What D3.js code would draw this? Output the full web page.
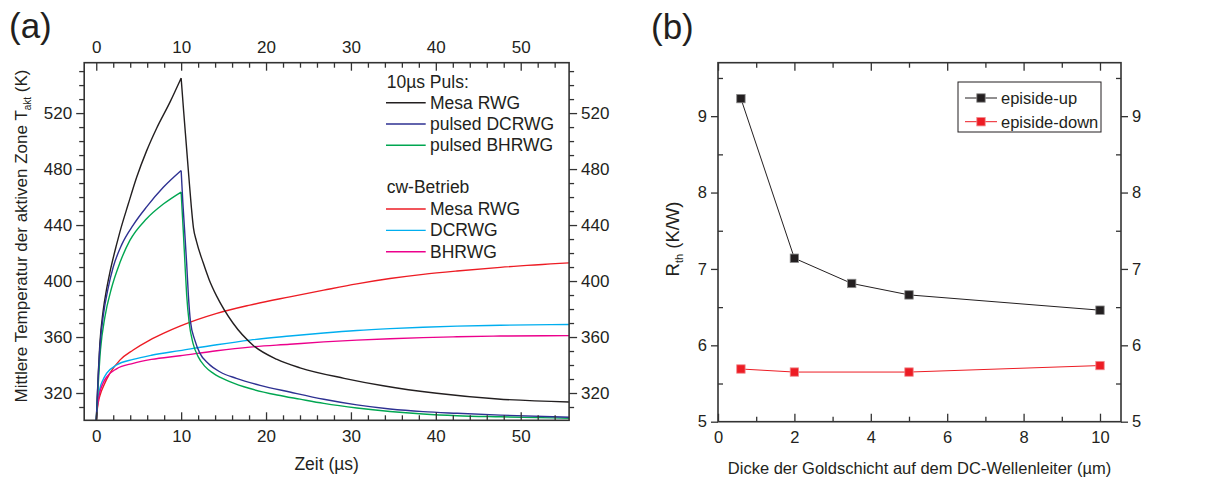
<!DOCTYPE html>
<html>
<head>
<meta charset="utf-8">
<script src="https://cdn.jsdelivr.net/npm/d3@7"></script>
<style>
  body { margin: 0; background: #fff; }
  svg text { font-family: "Liberation Sans", Arial, sans-serif; fill: #231f20; }
</style>
</head>
<body>
<div id="chart"></div>
<script>
// ---------- panel (a): temperature of the active zone vs time ----------
// [time in µs, temperature in K]
const pulsMesaRWG = [[0,300],[0.23,333],[0.42,355],[0.82,379],[1.21,394],[1.6,406],[2.39,426],[2.78,435],[3.77,455],[4.75,474],[5.93,493],[7.1,509],[8.7,528],[10,545],
  [10.3,521],[10.6,498],[10.9,475],[11.2,453],[11.45,438],[11.8,428.5],[12.6,413],[13.3,401],[14.2,389],[16.1,370],[18.5,354],[21.3,344],[24,338],[29.2,330.5],[33.8,325.2],[40.1,319.8],[47.3,315.7],[55.7,313.6]];
const pulsDCRWG = [[0,300],[0.42,352],[0.82,375],[1.4,395],[2.0,410],[3.0,426],[4.35,440],[5.93,453],[7.9,467],[10,479],
  [10.2,456],[10.4,437],[10.65,412.5],[10.85,390],[11.1,371],[11.6,358],[12.2,348.5],[13.2,341],[14.6,335],[16.5,330.5],[19.3,325.5],[22.8,320.7],[26.8,315.5],[30.7,311.5],[34.6,308.6],[38.5,306.7],[42.5,305.5],[47.6,304.2],[55.7,302.7]];
const pulsBHRWG = [[0,300],[0.5,351],[1.01,374],[1.8,395],[2.78,413],[3.96,429],[5.93,444.5],[7.9,455],[10,463.6],
  [10.12,450],[10.25,436],[10.45,412.5],[10.65,390],[10.95,370],[11.4,355.5],[12,346],[12.8,339],[13.8,334],[15.8,328],[18.1,323.2],[21.3,318.6],[24,315.6],[26.8,312.6],[30.7,309.3],[34.6,306.8],[38.5,305],[42.5,303.8],[47.6,303],[55.7,302]];
const cwMesaRWG = [[0,300],[0.08,306],[0.23,313],[0.5,319.5],[0.82,324.5],[1.6,334],[2.78,343.5],[4.35,350.7],[6.3,357.8],[7.9,362.6],[9.86,367.8],[14.2,376.9],[18.1,382.8],[22.8,388.7],[26.8,393.5],[30.7,398],[34.6,401.8],[38.5,404.8],[42.5,407.2],[47.6,409.8],[55.7,413]];
const cwDCRWG = [[0,300],[0.08,308],[0.2,315],[0.42,323],[0.8,329.5],[1.21,334],[2.39,340],[4.35,344],[6.5,347],[9.86,350.3],[14.2,354.5],[18.1,357.8],[22.8,360.7],[26.8,362.9],[30.7,364.7],[34.6,366],[38.5,367],[42.5,367.8],[47.6,368.4],[55.7,369]];
const cwBHRWG = [[0,300],[0.08,307],[0.2,313.5],[0.42,320.5],[0.8,327],[1.21,331.3],[2.39,337.3],[4.35,341.2],[6.5,344],[9.86,346.6],[14.2,350.2],[18.1,352.8],[22.8,354.8],[26.8,356.5],[30.7,357.8],[34.6,358.8],[38.5,359.6],[42.5,360.2],[47.6,360.7],[55.7,361]];

const pulsNames = ["Mesa RWG", "pulsed DCRWG", "pulsed BHRWG"];
const cwNames = ["Mesa RWG", "DCRWG", "BHRWG"];
const pulsColors = ["#231f20", "#2e3192", "#00a651"];
const cwColors = ["#ed1c24", "#00aeef", "#ec008c"];

const timeTicks = [0, 10, 20, 30, 40, 50];
const timeMinor = d3.range(2, 56, 2).filter(v => v % 10 != 0);
const tempTicks = [320, 360, 400, 440, 480, 520];
const tempMinor = d3.range(310, 556, 10).filter(v => !tempTicks.includes(v));

// ---------- panel (b): thermal resistance vs gold thickness ----------
const thickUp = [0.6, 2, 3.5, 5, 10];
const rthUp = [9.23, 7.14, 6.81, 6.66, 6.46];
const thickDown = [0.6, 2, 5, 10];
const rthDown = [5.69, 5.65, 5.65, 5.735];
const seriesNames = ["episide-up", "episide-down"];
const seriesColors = ["#231f20", "#ed1c24"];

const goldTicks = [0, 2, 4, 6, 8, 10];
const goldMinor = [1, 3, 5, 7, 9];
const rthTicks = [5, 6, 7, 8, 9];
const rthMinor = [5.5, 6.5, 7.5, 8.5, 9.5];

const W = 1230, H = 479;
const axisColor = "#333";

const svg = d3.select("#chart").append("svg")
  .attr("width", W).attr("height", H)
  .attr("viewBox", [0, 0, W, H]);

// helper: draw an axis with major + minor ticks
function drawAxis(g, axisFn, scale, major, minor, majorSize, minorSize, pad, fontSize, labels) {
  const a = axisFn(scale).tickValues(major).tickSizeInner(majorSize).tickSizeOuter(0).tickPadding(pad)
    .tickFormat(labels ? d3.format("~g") : () => "");
  g.call(a);
  const m = axisFn(scale).tickValues(minor).tickSizeInner(minorSize).tickSizeOuter(0).tickFormat(() => "");
  g.append("g").call(m);
  g.selectAll(".domain").remove();
  g.selectAll("line").attr("stroke", axisColor).attr("stroke-width", 1.3);
  g.selectAll("text").attr("font-size", fontSize).attr("font-family", null).attr("fill", "#231f20");
}

// ================= panel (a) =================
const xA = d3.scaleLinear().domain([-1.42, 55.7]).range([84.2, 569.1]);
const yA = d3.scaleLinear().domain([300.5, 556]).range([420.3, 62.7]);

const gA = svg.append("g");

gA.append("text").attr("x", 9).attr("y", 38).attr("font-size", 35).text("(a)");

const lineA = d3.line().x(d => xA(d[0])).y(d => yA(d[1])).curve(d3.curveMonotoneX);

// pulsed curves have a sharp corner at the end of the pulse
function splitPath(data) {
  const i = d3.maxIndex(data, d => d[1]);
  if (i == data.length - 1) return lineA(data);
  return lineA(data.slice(0, i + 1)) + lineA(data.slice(i));
}

const curves = [
  {data: cwMesaRWG, color: cwColors[0]},
  {data: cwDCRWG, color: cwColors[1]},
  {data: cwBHRWG, color: cwColors[2]},
  {data: pulsMesaRWG, color: pulsColors[0]},
  {data: pulsBHRWG, color: pulsColors[2]},
  {data: pulsDCRWG, color: pulsColors[1]}
];

gA.append("g").selectAll("path")
  .data(curves)
  .join("path")
  .attr("d", d => splitPath(d.data))
  .attr("fill", "none")
  .attr("stroke", d => d.color)
  .attr("stroke-width", 1.4);

// axes
drawAxis(gA.append("g").attr("transform", `translate(0,${yA.range()[0]})`), d3.axisBottom, xA, timeTicks, timeMinor, -8, -5, 10, 17, true);
drawAxis(gA.append("g").attr("transform", `translate(0,${yA.range()[1]})`), d3.axisTop, xA, timeTicks, timeMinor, -8, -5, 10, 17, true);
drawAxis(gA.append("g").attr("transform", `translate(${xA.range()[0]},0)`), d3.axisLeft, yA, tempTicks, tempMinor, 8, 5, 4, 17, true);
drawAxis(gA.append("g").attr("transform", `translate(${xA.range()[1]},0)`), d3.axisRight, yA, tempTicks, tempMinor, 8, 5, 4, 17, true);

gA.append("rect")
  .attr("x", xA.range()[0]).attr("y", yA.range()[1])
  .attr("width", xA.range()[1] - xA.range()[0])
  .attr("height", yA.range()[0] - yA.range()[1])
  .attr("fill", "none").attr("stroke", axisColor).attr("stroke-width", 1.6);

// axis titles
gA.append("text")
  .attr("x", (xA.range()[0] + xA.range()[1]) / 2).attr("y", 470)
  .attr("text-anchor", "middle").attr("font-size", 17.5)
  .text("Zeit (µs)");

const yTitleA = gA.append("text")
  .attr("transform", "translate(27,236) rotate(-90)")
  .attr("text-anchor", "middle").attr("font-size", 17);
yTitleA.append("tspan").text("Mittlere Temperatur der aktiven Zone T");
yTitleA.append("tspan").attr("font-size", 10).attr("dy", 4).text("akt");
yTitleA.append("tspan").attr("dy", -4).text(" (K)");

// legend
const legA = gA.append("g");
legA.append("text").attr("x", 386.7).attr("y", 88).attr("font-size", 17.5).text("10µs Puls:");
legA.append("text").attr("x", 386.7).attr("y", 193.3).attr("font-size", 17.5).text("cw-Betrieb");
const legRows = pulsNames.map((n, i) => ({name: n, color: pulsColors[i], y: 102.7 + i * 21.3}))
  .concat(cwNames.map((n, i) => ({name: n, color: cwColors[i], y: 209 + i * 21.4})));
const lr = legA.selectAll("g.row").data(legRows).join("g").attr("class", "row");
lr.append("line")
  .attr("x1", 386).attr("x2", 425.7)
  .attr("y1", d => d.y).attr("y2", d => d.y)
  .attr("stroke", d => d.color).attr("stroke-width", 1.4);
lr.append("text")
  .attr("x", 430).attr("y", d => d.y + 6)
  .attr("font-size", 17.5)
  .text(d => d.name);

// ================= panel (b) =================
const xB = d3.scaleLinear().domain([0, 10.55]).range([718, 1121]);
const yB = d3.scaleLinear().domain([5, 9.7]).range([421.7, 62.7]);

const gB = svg.append("g");
gB.append("text").attr("x", 651).attr("y", 39).attr("font-size", 35).text("(b)");

drawAxis(gB.append("g").attr("transform", `translate(0,${yB.range()[0]})`), d3.axisBottom, xB, goldTicks, goldMinor, -8, -5, 10, 16.5, true);
drawAxis(gB.append("g").attr("transform", `translate(0,${yB.range()[1]})`), d3.axisTop, xB, goldTicks, goldMinor, -8, -5, 10, 16.5, false);
drawAxis(gB.append("g").attr("transform", `translate(${xB.range()[0]},0)`), d3.axisLeft, yB, rthTicks, rthMinor, 7, -5, 4, 16.5, true);
drawAxis(gB.append("g").attr("transform", `translate(${xB.range()[1]},0)`), d3.axisRight, yB, rthTicks, rthMinor, 7, -5, 4, 16.5, true);

gB.append("rect")
  .attr("x", xB.range()[0]).attr("y", yB.range()[1])
  .attr("width", xB.range()[1] - xB.range()[0])
  .attr("height", yB.range()[0] - yB.range()[1])
  .attr("fill", "none").attr("stroke", axisColor).attr("stroke-width", 1.6);

const lineB = d3.line().x(d => xB(d[0])).y(d => yB(d[1]));
const seriesB = [
  {pts: d3.zip(thickUp, rthUp), color: seriesColors[0], edge: "#8a8a8a"},
  {pts: d3.zip(thickDown, rthDown), color: seriesColors[1], edge: "#f08a8e"}
];
const sB = gB.selectAll("g.series").data(seriesB).join("g").attr("class", "series");
sB.append("path")
  .attr("d", d => lineB(d.pts))
  .attr("fill", "none").attr("stroke", d => d.color).attr("stroke-width", 1);
sB.selectAll("rect")
  .data(d => d.pts.map(p => ({p, color: d.color, edge: d.edge})))
  .join("rect")
  .attr("x", d => xB(d.p[0]) - 4.2).attr("y", d => yB(d.p[1]) - 4.2)
  .attr("width", 8.4).attr("height", 8.4)
  .attr("fill", d => d.color).attr("stroke", d => d.edge).attr("stroke-width", 0.8);

gB.append("text")
  .attr("x", (xB.range()[0] + xB.range()[1]) / 2).attr("y", 474)
  .attr("text-anchor", "middle").attr("font-size", 16.5)
  .text("Dicke der Goldschicht auf dem DC-Wellenleiter (µm)");

const yTitleB = gB.append("text")
  .attr("transform", "translate(679,239) rotate(-90)")
  .attr("text-anchor", "middle").attr("font-size", 18.5);
yTitleB.append("tspan").text("R");
yTitleB.append("tspan").attr("font-size", 11).attr("dy", 4).text("th");
yTitleB.append("tspan").attr("dy", -4).text(" (K/W)");

// legend (b)
const legB = gB.append("g");
legB.append("rect")
  .attr("x", 958).attr("y", 82).attr("width", 143).attr("height", 50)
  .attr("fill", "#fff").attr("stroke", "#231f20").attr("stroke-width", 1);
const lb = legB.selectAll("g.item")
  .data(seriesNames.map((n, i) => ({name: n, color: seriesColors[i], edge: seriesB[i].edge, y: 98 + i * 23.7})))
  .join("g").attr("class", "item");
lb.append("line")
  .attr("x1", 965).attr("x2", 997)
  .attr("y1", d => d.y).attr("y2", d => d.y)
  .attr("stroke", d => d.color).attr("stroke-width", 1);
lb.append("rect")
  .attr("x", 981 - 4.2).attr("y", d => d.y - 4.2)
  .attr("width", 8.4).attr("height", 8.4)
  .attr("fill", d => d.color).attr("stroke", d => d.edge).attr("stroke-width", 0.8);
lb.append("text")
  .attr("x", 1001).attr("y", d => d.y + 6)
  .attr("font-size", 16.5)
  .text(d => d.name);
</script>
</body>
</html>
